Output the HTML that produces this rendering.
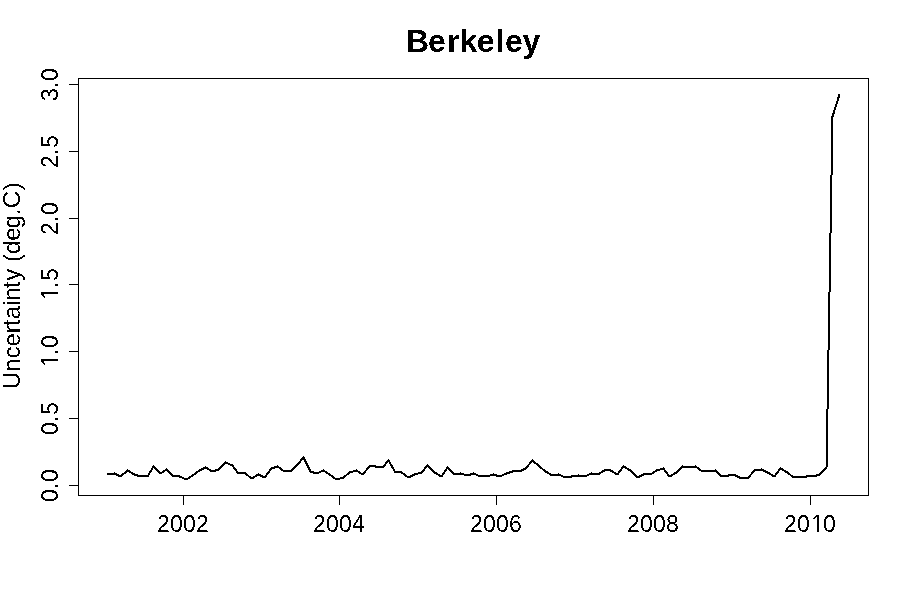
<!DOCTYPE html>
<html lang="en"><head><meta charset="utf-8"><title>Berkeley</title>
<style>
html,body{margin:0;padding:0;background:#fff;}
body{width:909px;height:593px;overflow:hidden;}
svg{display:block;}
text{font-family:"Liberation Sans",sans-serif;fill:#000;}
.ax,.yt,.yl{font-size:24px;}
.ttl{font-size:32px;font-weight:bold;}
.ln{stroke:#000;stroke-width:1;fill:none;shape-rendering:crispEdges;}
.dat{fill:#000;stroke:none;shape-rendering:crispEdges;}
</style></head><body>
<svg width="909" height="593" viewBox="0 0 909 593">
<defs><filter id="bw" x="-5%" y="-5%" width="110%" height="110%" color-interpolation-filters="sRGB"><feComponentTransfer><feFuncA type="discrete" tableValues="0 1"/></feComponentTransfer></filter>
<clipPath id="cf" clipPathUnits="userSpaceOnUse"><path clip-rule="evenodd" d="M0 0H909V593H0Z M811 529.5H817V533H811Z M819 529.5H825V533H819Z M55.5 286H59V292H55.5Z M55.5 294H59V301H55.5Z M55.5 353H59V359H55.5Z M55.5 361H59V368H55.5Z"/></clipPath>
</defs>
<rect x="0" y="0" width="909" height="593" fill="#fff"/>
<g filter="url(#bw)"><g clip-path="url(#cf)">
<text class="ttl" x="406.1 427.9 447 459.5 476.8 495.6 505 522.6" y="52">Berkeley</text>
<rect class="ln" x="78.5" y="78.5" width="790" height="417"/>
<line class="ln" x1="183.5" y1="495" x2="183.5" y2="505"/>
<text class="ax" transform="translate(183 532) scale(0.96 1)" x="-27.08 -13.44 0.10 13.54">2002</text>
<line class="ln" x1="339.5" y1="495" x2="339.5" y2="505"/>
<text class="ax" transform="translate(339 532) scale(0.96 1)" x="-27.08 -13.44 0.10 13.54">2004</text>
<line class="ln" x1="496.5" y1="495" x2="496.5" y2="505"/>
<text class="ax" transform="translate(496 532) scale(0.96 1)" x="-27.08 -13.44 0.10 13.54">2006</text>
<line class="ln" x1="653.5" y1="495" x2="653.5" y2="505"/>
<text class="ax" transform="translate(653 532) scale(0.96 1)" x="-27.08 -13.44 0.10 13.54">2008</text>
<line class="ln" x1="810.5" y1="495" x2="810.5" y2="505"/>
<text class="ax" transform="translate(810 532) scale(0.96 1)" x="-27.08 -13.44 1.04 13.65">2010</text>
<line class="ln" x1="69" y1="485.5" x2="79" y2="485.5"/>
<text class="yt" transform="translate(58 485.5) rotate(-90) scale(0.96 1)" x="-17.19 -3.85 3.65">0.0</text>
<line class="ln" x1="69" y1="418.5" x2="79" y2="418.5"/>
<text class="yt" transform="translate(58 418.5) rotate(-90) scale(0.96 1)" x="-17.19 -3.85 3.65">0.5</text>
<line class="ln" x1="69" y1="351.5" x2="79" y2="351.5"/>
<text class="yt" transform="translate(58 351.5) rotate(-90) scale(0.96 1)" x="-16.15 -3.85 3.65">1.0</text>
<line class="ln" x1="69" y1="284.5" x2="79" y2="284.5"/>
<text class="yt" transform="translate(58 284.5) rotate(-90) scale(0.96 1)" x="-16.15 -3.85 3.65">1.5</text>
<line class="ln" x1="69" y1="218.5" x2="79" y2="218.5"/>
<text class="yt" transform="translate(58 218.5) rotate(-90) scale(0.96 1)" x="-17.19 -3.85 3.65">2.0</text>
<line class="ln" x1="69" y1="151.5" x2="79" y2="151.5"/>
<text class="yt" transform="translate(58 151.5) rotate(-90) scale(0.96 1)" x="-17.19 -3.85 3.65">2.5</text>
<line class="ln" x1="69" y1="84.5" x2="79" y2="84.5"/>
<text class="yt" transform="translate(58 84.5) rotate(-90) scale(0.96 1)" x="-17.19 -3.85 3.65">3.0</text>
<text class="yl" transform="translate(20 286) rotate(-90)" x="-103.24 -85.91 -72.57 -60.57 -47.22 -40.02 -33.35 -20.01 -14.68 -1.94 5.34 17.34 24.01 31.99 45.35 57.60 71.04 77.81 95.84">Uncertainty (deg.C)</text>
</g></g>
<path class="dat" d="M107 473h10v1h-10zM107 474h12v1h-12zM114 472h1v1h-1zM116 475h7v1h-7zM118 476h4v1h-4zM121 474h3v1h-3zM122 473h4v1h-4zM124 472h3v1h-3zM125 471h6v1h-6zM126 470h4v1h-4zM127 469h1v1h-1zM129 472h4v1h-4zM131 473h4v1h-4zM132 474h6v1h-6zM134 475h15v1h-15zM137 476h12v1h-12zM148 473h2v2h-2zM149 471h3v1h-3zM149 472h2v1h-2zM150 470h2v1h-2zM151 468h2v2h-2zM152 466h3v1h-3zM152 467h4v1h-4zM153 465h1v1h-1zM154 468h3v1h-3zM155 469h3v1h-3zM156 470h3v1h-3zM157 471h3v1h-3zM158 472h6v1h-6zM159 473h3v1h-3zM162 471h3v1h-3zM163 470h6v1h-6zM165 469h3v1h-3zM166 468h1v1h-1zM167 471h3v1h-3zM168 472h3v1h-3zM169 473h3v1h-3zM170 474h3v1h-3zM171 475h9v1h-9zM172 476h10v1h-10zM179 477h5v1h-5zM182 478h8v1h-8zM184 479h4v1h-4zM188 477h3v1h-3zM189 476h4v1h-4zM191 475h3v1h-3zM192 474h4v1h-4zM194 473h3v1h-3zM195 472h3v1h-3zM196 471h4v1h-4zM198 470h4v1h-4zM199 469h5v1h-5zM201 468h8v1h-8zM203 467h5v1h-5zM205 466h1v1h-1zM207 469h4v1h-4zM209 470h10v1h-10zM210 471h6v1h-6zM215 469h5v1h-5zM218 468h3v1h-3zM219 467h3v1h-3zM220 466h3v1h-3zM221 465h3v1h-3zM222 464h3v1h-3zM223 463h7v1h-7zM224 462h4v1h-4zM225 461h1v1h-1zM228 464h5v1h-5zM230 465h4v1h-4zM232 466h2v1h-2zM233 467h2v1h-2zM233 468h3v1h-3zM234 469h3v1h-3zM235 470h2v1h-2zM236 471h2v1h-2zM236 472h10v1h-10zM237 473h10v1h-10zM245 474h3v1h-3zM246 475h3v1h-3zM248 476h3v1h-3zM249 477h6v1h-6zM250 478h4v1h-4zM253 476h4v1h-4zM255 475h8v1h-8zM256 474h5v1h-5zM258 473h1v1h-1zM260 476h7v1h-7zM262 477h4v1h-4zM265 475h2v1h-2zM266 473h3v1h-3zM266 474h2v1h-2zM267 472h3v1h-3zM268 471h2v1h-2zM269 469h3v1h-3zM269 470h2v1h-2zM270 468h5v1h-5zM271 467h10v1h-10zM274 466h5v1h-5zM277 465h1v1h-1zM279 468h3v1h-3zM280 469h3v1h-3zM281 470h12v1h-12zM283 471h9v1h-9zM291 469h3v1h-3zM292 468h3v1h-3zM293 467h3v1h-3zM294 466h3v1h-3zM295 465h3v1h-3zM296 464h3v1h-3zM297 463h3v1h-3zM298 462h3v1h-3zM299 461h2v1h-2zM300 459h6v1h-6zM300 460h2v1h-2zM301 458h4v1h-4zM302 457h3v1h-3zM303 456h1v1h-1zM304 460h2v1h-2zM304 461h3v1h-3zM305 462h2v1h-2zM305 463h3v1h-3zM306 464h2v1h-2zM306 465h3v1h-3zM307 466h2v1h-2zM307 467h3v1h-3zM308 468h2v1h-2zM308 469h3v1h-3zM309 470h2v1h-2zM309 471h5v1h-5zM310 472h11v1h-11zM313 473h6v1h-6zM319 471h8v1h-8zM321 470h4v1h-4zM323 469h1v1h-1zM325 472h3v1h-3zM326 473h4v1h-4zM328 474h3v1h-3zM329 475h4v1h-4zM331 476h3v1h-3zM332 477h3v1h-3zM333 478h11v1h-11zM335 479h5v1h-5zM340 477h5v1h-5zM343 476h3v1h-3zM344 475h3v1h-3zM346 474h3v1h-3zM347 473h3v1h-3zM348 472h5v1h-5zM349 471h11v1h-11zM353 470h5v1h-5zM356 469h1v1h-1zM358 472h3v1h-3zM359 473h6v1h-6zM361 474h3v1h-3zM363 472h3v1h-3zM364 471h2v1h-2zM365 470h2v1h-2zM366 468h3v1h-3zM366 469h2v1h-2zM367 467h3v1h-3zM368 466h17v1h-17zM369 465h7v1h-7zM375 467h9v1h-9zM383 465h3v1h-3zM384 464h2v1h-2zM385 462h3v1h-3zM385 463h2v1h-2zM386 461h4v1h-4zM387 460h3v1h-3zM388 459h1v1h-1zM389 462h2v2h-2zM390 464h2v1h-2zM390 465h3v1h-3zM391 466h2v1h-2zM391 467h3v1h-3zM392 468h2v1h-2zM393 469h2v2h-2zM394 471h8v1h-8zM394 472h9v1h-9zM401 473h4v1h-4zM403 474h3v1h-3zM404 475h3v1h-3zM405 476h8v1h-8zM407 477h4v1h-4zM410 475h5v1h-5zM412 474h6v1h-6zM414 473h8v1h-8zM418 472h5v1h-5zM421 471h3v1h-3zM422 470h3v1h-3zM423 469h2v1h-2zM424 467h3v1h-3zM424 468h2v1h-2zM425 466h5v1h-5zM426 465h3v1h-3zM427 464h1v1h-1zM428 467h3v1h-3zM429 468h3v1h-3zM430 469h3v1h-3zM431 470h3v1h-3zM432 471h3v1h-3zM433 472h4v1h-4zM434 473h4v1h-4zM436 474h4v1h-4zM438 475h5v1h-5zM439 476h4v1h-4zM442 473h3v1h-3zM442 474h2v1h-2zM443 472h2v1h-2zM444 470h3v1h-3zM444 471h2v1h-2zM445 469h2v1h-2zM446 467h3v1h-3zM446 468h4v1h-4zM447 466h1v1h-1zM448 469h3v1h-3zM449 470h3v1h-3zM450 471h3v1h-3zM451 472h3v1h-3zM452 473h12v1h-12zM453 474h25v1h-25zM460 472h1v1h-1zM464 475h7v1h-7zM470 473h6v1h-6zM473 472h1v1h-1zM476 475h28v1h-28zM478 476h12v1h-12zM490 474h7v1h-7zM493 473h1v1h-1zM496 476h6v1h-6zM502 474h5v1h-5zM504 473h6v1h-6zM506 472h7v1h-7zM509 471h13v1h-13zM512 470h12v1h-12zM521 469h5v1h-5zM523 468h4v1h-4zM525 467h3v1h-3zM526 466h3v1h-3zM527 465h2v1h-2zM528 464h2v1h-2zM529 462h3v1h-3zM529 463h2v1h-2zM530 461h5v1h-5zM531 460h3v1h-3zM532 459h1v1h-1zM533 462h3v1h-3zM534 463h4v1h-4zM536 464h3v1h-3zM537 465h3v1h-3zM538 466h3v1h-3zM539 467h3v1h-3zM540 468h3v1h-3zM542 469h3v1h-3zM543 470h3v1h-3zM544 471h4v1h-4zM545 472h4v1h-4zM547 473h4v1h-4zM549 474h12v1h-12zM550 475h13v1h-13zM558 473h1v1h-1zM561 476h26v1h-26zM563 477h9v1h-9zM571 475h18v1h-18zM578 474h1v1h-1zM587 474h13v1h-13zM589 473h12v1h-12zM591 472h1v1h-1zM599 472h4v1h-4zM601 471h4v1h-4zM602 470h11v1h-11zM604 469h7v1h-7zM610 471h4v1h-4zM612 472h4v1h-4zM614 473h5v1h-5zM615 474h4v1h-4zM618 471h3v1h-3zM618 472h2v1h-2zM619 470h3v1h-3zM620 469h2v1h-2zM621 467h6v1h-6zM621 468h2v1h-2zM622 466h4v1h-4zM623 465h1v1h-1zM625 468h4v1h-4zM627 469h4v1h-4zM628 470h4v1h-4zM630 471h3v1h-3zM631 472h3v1h-3zM632 473h3v1h-3zM633 474h3v1h-3zM634 475h3v1h-3zM635 476h7v1h-7zM636 477h4v1h-4zM639 475h5v1h-5zM641 474h11v1h-11zM643 473h11v1h-11zM652 472h3v1h-3zM653 471h4v1h-4zM655 470h5v1h-5zM656 469h9v1h-9zM660 468h5v1h-5zM663 467h1v1h-1zM664 470h2v1h-2zM664 471h3v1h-3zM665 472h3v1h-3zM666 473h2v1h-2zM667 474h2v1h-2zM667 475h6v1h-6zM668 476h4v1h-4zM671 474h4v1h-4zM673 473h4v1h-4zM674 472h4v1h-4zM676 471h3v1h-3zM677 470h3v1h-3zM678 469h3v1h-3zM679 468h3v1h-3zM680 467h19v1h-19zM681 466h16v1h-16zM682 465h1v1h-1zM695 465h1v1h-1zM697 468h3v1h-3zM698 469h3v1h-3zM699 470h18v1h-18zM701 471h17v1h-17zM715 469h1v1h-1zM716 472h3v1h-3zM717 473h3v1h-3zM718 474h3v1h-3zM719 475h19v1h-19zM720 476h9v1h-9zM728 474h8v1h-8zM735 476h5v1h-5zM737 477h13v1h-13zM739 478h10v1h-10zM748 476h3v1h-3zM749 475h2v1h-2zM750 474h2v1h-2zM751 472h3v1h-3zM751 473h2v1h-2zM752 471h3v1h-3zM753 470h13v1h-13zM754 469h10v1h-10zM761 468h1v1h-1zM763 471h5v1h-5zM765 472h5v1h-5zM767 473h4v1h-4zM769 474h4v1h-4zM771 475h5v1h-5zM772 476h4v1h-4zM775 473h3v1h-3zM775 474h2v1h-2zM776 472h3v1h-3zM777 471h2v1h-2zM778 469h6v1h-6zM778 470h2v1h-2zM779 468h4v1h-4zM780 467h1v1h-1zM782 470h4v1h-4zM784 471h4v1h-4zM785 472h4v1h-4zM787 473h3v1h-3zM788 474h3v1h-3zM790 475h3v1h-3zM791 476h26v1h-26zM792 477h15v1h-15zM806 475h14v1h-14zM816 474h5v1h-5zM819 473h3v1h-3zM820 472h3v1h-3zM821 471h3v1h-3zM822 470h3v1h-3zM823 469h3v1h-3zM824 468h3v1h-3zM825 467h2v1h-2zM826 409h2v58h-2zM827 350h2v59h-2zM828 292h2v58h-2zM829 233h2v59h-2zM830 175h2v58h-2zM831 116h3v1h-3zM831 117h2v58h-2zM832 113h3v1h-3zM832 114h2v2h-2zM833 110h2v3h-2zM834 107h2v3h-2zM835 104h2v3h-2zM836 101h2v3h-2zM837 97h3v1h-3zM837 98h2v3h-2zM838 94h2v3h-2z"/>
</svg></body></html>
